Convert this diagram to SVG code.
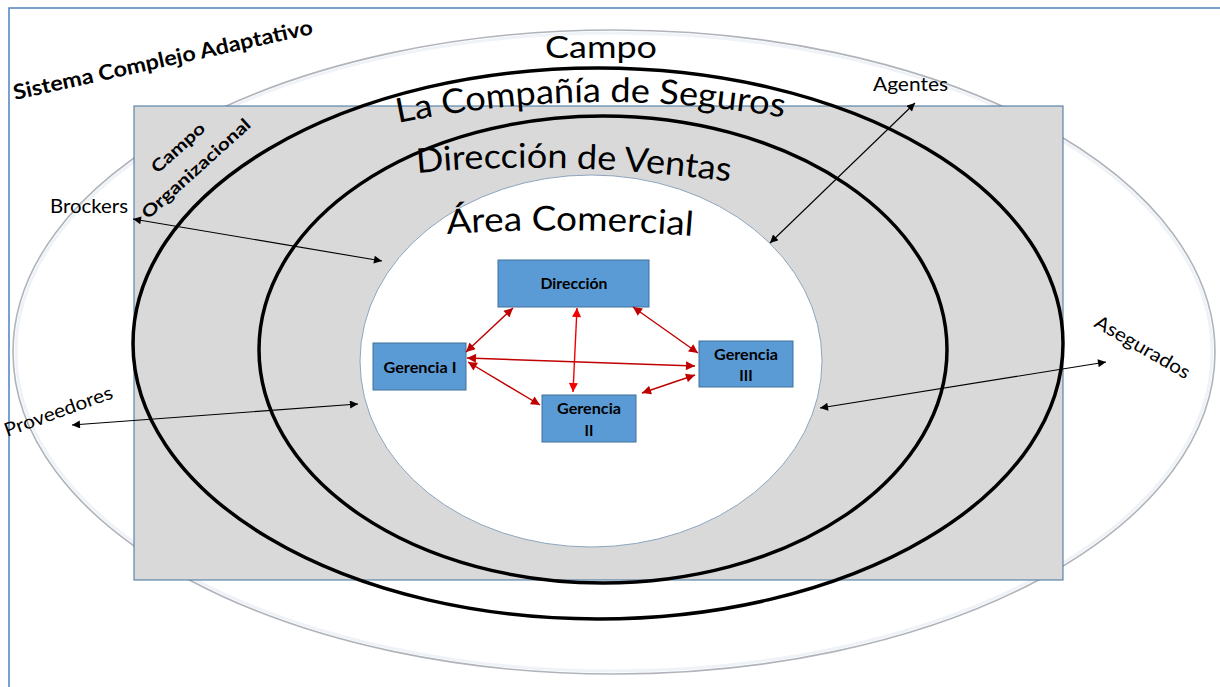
<svg xmlns="http://www.w3.org/2000/svg" width="1220" height="687" viewBox="0 0 1220 687">
<style>
text{font-family:Lato,"Open Sans","Liberation Sans",sans-serif;fill:#000}
.b{font-weight:bold}
.big{font-size:34px}
.lbl{font-size:19px}
.box{fill:#5B9BD5;stroke:#41719C;stroke-width:1}
.bt{font-size:15px;font-weight:bold;text-anchor:middle}
.ring{fill:none;stroke:#000;stroke-width:3.5}
.ka{stroke:#000;stroke-width:1.1;fill:none;marker-start:url(#ak);marker-end:url(#ak)}
.ra{stroke:#C00000;stroke-width:1.4;fill:none;marker-start:url(#ar);marker-end:url(#ar)}
.rb{stroke:#F00000;stroke-width:1.4;fill:none;marker-start:url(#ab);marker-end:url(#ab)}
</style>
<defs>
<marker id="ak" viewBox="0 0 10 10" refX="10" refY="5" markerWidth="9" markerHeight="8" markerUnits="userSpaceOnUse" orient="auto-start-reverse"><path d="M0,0 L10,5 L0,10 z" fill="#000"/></marker>
<marker id="ar" viewBox="0 0 10 10" refX="10" refY="5" markerWidth="10" markerHeight="9" markerUnits="userSpaceOnUse" orient="auto-start-reverse"><path d="M0,0 L10,5 L0,10 z" fill="#C00000"/></marker>
<marker id="ab" viewBox="0 0 10 10" refX="10" refY="5" markerWidth="10" markerHeight="9" markerUnits="userSpaceOnUse" orient="auto-start-reverse"><path d="M0,0 L10,5 L0,10 z" fill="#F00000"/></marker>
<path id="pCS" d="M 398 123 Q 590 84 786 118"/>
<path id="pDV" d="M 417 173 Q 560 159 733 182"/>
<path id="pAC" d="M 447 234 Q 570 226 694 236"/>
</defs>
<rect width="1220" height="687" fill="#fff"/>
<path d="M 9 687 L 9 8 L 1220 8" fill="none" stroke="#4F81BD" stroke-width="1.5"/>
<g id="sistema">
<ellipse cx="614" cy="352" rx="601" ry="322" fill="#fff" stroke="#B0B4BA" stroke-width="1.6"/>
<ellipse cx="614" cy="352" rx="598" ry="319" fill="none" stroke="#EFF3F8" stroke-width="3"/>
<text class="b" font-size="21" transform="translate(15,100) rotate(-12.5)" textLength="306" lengthAdjust="spacingAndGlyphs">Sistema Complejo Adaptativo</text>
</g>
<g id="campo-organizacional">
<rect x="134" y="106" width="929" height="474" fill="#D9D9D9" stroke="#41719C" stroke-width="1"/>
<text class="b" font-size="17" text-anchor="middle" transform="translate(182,152) rotate(-42)" textLength="66" lengthAdjust="spacingAndGlyphs">Campo</text>
<text class="b" font-size="17" text-anchor="middle" transform="translate(200,173) rotate(-42)" textLength="140" lengthAdjust="spacingAndGlyphs">Organizacional</text>
</g>
<g id="compania">
<ellipse class="ring" cx="598" cy="343.5" rx="465" ry="275.5"/>
</g>
<g id="direccion-ventas">
<ellipse class="ring" cx="603" cy="349.5" rx="344" ry="233.5"/>
</g>
<g id="area-comercial">
<ellipse cx="591" cy="361" rx="231" ry="186" fill="#fff" stroke="#8EA4BC" stroke-width="1"/>
</g>
<g id="titles">
<text x="601" y="58" text-anchor="middle" font-size="30" textLength="112" lengthAdjust="spacingAndGlyphs">Campo</text>
<text class="big"><textPath href="#pCS" textLength="388" lengthAdjust="spacingAndGlyphs">La Compañía de Seguros</textPath></text>
<text class="big"><textPath href="#pDV" textLength="314" lengthAdjust="spacingAndGlyphs">Dirección de Ventas</textPath></text>
<text class="big"><textPath href="#pAC" textLength="246" lengthAdjust="spacingAndGlyphs">Área Comercial</textPath></text>
</g>
<g id="brockers"><text class="lbl" x="50" y="213" textLength="78" lengthAdjust="spacingAndGlyphs">Brockers</text></g>
<g id="proveedores"><text class="lbl" transform="translate(7,437) rotate(-20)" textLength="114" lengthAdjust="spacingAndGlyphs">Proveedores</text></g>
<g id="agentes"><text class="lbl" x="873" y="91" textLength="75" lengthAdjust="spacingAndGlyphs">Agentes</text></g>
<g id="asegurados"><text class="lbl" transform="translate(1093,326) rotate(30)" textLength="107" lengthAdjust="spacingAndGlyphs">Asegurados</text></g>
<g id="n-direccion"><rect class="box" x="498" y="260" width="151" height="47"/><text class="bt" x="574" y="289" textLength="67" lengthAdjust="spacingAndGlyphs">Dirección</text></g>
<g id="n-gerencia1"><rect class="box" x="373" y="343" width="93" height="47"/><text class="bt" x="420" y="373" textLength="73" lengthAdjust="spacingAndGlyphs">Gerencia I</text></g>
<g id="n-gerencia3"><rect class="box" x="699" y="341" width="94" height="46"/><text class="bt" x="746" y="360" textLength="64" lengthAdjust="spacingAndGlyphs">Gerencia</text><text class="bt" x="746" y="381">III</text></g>
<g id="n-gerencia2"><rect class="box" x="542" y="395" width="94" height="47"/><text class="bt" x="589" y="414" textLength="64" lengthAdjust="spacingAndGlyphs">Gerencia</text><text class="bt" x="589" y="436">II</text></g>
<g id="connectors">
<line class="ka" x1="133" y1="219" x2="382" y2="261"/>
<line class="ka" x1="72" y1="425" x2="358" y2="404"/>
<line class="ka" x1="915" y1="103" x2="770" y2="243"/>
<line class="ka" x1="1106" y1="362" x2="820" y2="408"/>
<line class="ra" x1="513" y1="308" x2="466" y2="352"/>
<line class="rb" x1="577" y1="308" x2="573" y2="392"/>
<line class="ra" x1="633" y1="307" x2="698" y2="353"/>
<line class="ra" x1="467" y1="358" x2="695" y2="366"/>
<line class="ra" x1="468" y1="362" x2="540" y2="405"/>
<line class="ra" x1="642" y1="393" x2="695" y2="375"/>
</g>
</svg>
